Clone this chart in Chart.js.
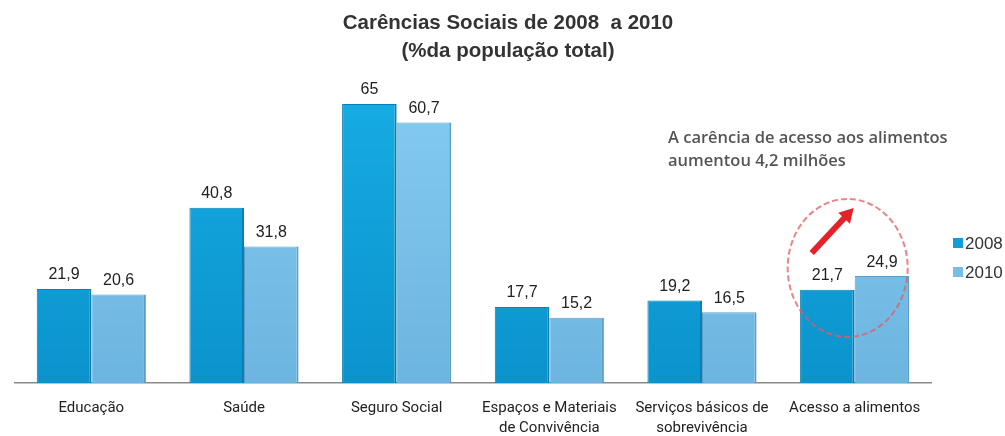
<!DOCTYPE html>
<html>
<head>
<meta charset="utf-8">
<script src="https://cdn.jsdelivr.net/npm/chart.js@4.4.0/dist/chart.umd.min.js"></script>
<style>
  html, body { margin: 0; padding: 0; background: #fff; }
  #wrap { width: 1005px; height: 436px; }
</style>
</head>
<body>
<div id="wrap"><canvas id="barChart" width="1005" height="436"></canvas></div>
<script>
const categories = [
  "Educação",
  "Saúde",
  "Seguro Social",
  ["Espaços e Materiais", "de Convivência"],
  ["Serviços básicos de", "sobrevivência"],
  "Acesso a alimentos",
];
const values2008 = [21.9, 40.8, 65, 17.7, 19.2, 21.7];
const values2010 = [20.6, 31.8, 60.7, 15.2, 16.5, 24.9];
const seriesLabels = ["2008", "2010"];
const titleLines = ["Carências Sociais de 2008  a 2010", "(%da população total)"];
const noteLines = ["A carência de acesso aos alimentos", "aumentou 4,2 milhões"];

function fmt(v) {
  return String(v).replace(".", ",");
}

// vertical gradient per bar, light at the top
function barFill(top, bottom) {
  return function (context) {
    const chart = context.chart;
    const area = chart.chartArea;
    if (!area) return top;
    const g = chart.ctx.createLinearGradient(0, area.top, 0, area.bottom);
    g.addColorStop(0, top);
    g.addColorStop(1, bottom);
    return g;
  };
}

const headTitle = {
  id: "headTitle",
  afterDraw(chart) {
    const ctx = chart.ctx;
    ctx.save();
    ctx.font = "bold 20.5px 'Liberation Sans', Arial, sans-serif";
    ctx.fillStyle = "#333";
    ctx.textAlign = "center";
    ctx.textBaseline = "middle";
    titleLines.forEach(function (t, i) {
      ctx.fillText(t, 508, 23 + i * 28);
    });
    ctx.restore();
  },
};

const valueLabels = {
  id: "valueLabels",
  afterDatasetsDraw(chart) {
    const ctx = chart.ctx;
    ctx.save();
    ctx.font = "16px 'Liberation Sans', Arial, sans-serif";
    ctx.fillStyle = "#222";
    ctx.textAlign = "center";
    ctx.textBaseline = "middle";
    chart.data.datasets.forEach(function (ds, i) {
      chart.getDatasetMeta(i).data.forEach(function (bar, j) {
        ctx.fillText(fmt(ds.data[j]), bar.x, bar.y - 14);
      });
    });
    ctx.restore();
  },
};

const sideLegend = {
  id: "sideLegend",
  afterDraw(chart) {
    const ctx = chart.ctx;
    const x0 = chart.chartArea.right + 22;
    ctx.save();
    ctx.font = "17px 'Liberation Sans', Arial, sans-serif";
    ctx.textBaseline = "middle";
    chart.data.datasets.forEach(function (ds, i) {
      const cy = 243 + i * 29;
      ctx.fillStyle = ds.swatch;
      ctx.fillRect(x0, cy - 5, 10, 10);
      ctx.fillStyle = "#333";
      ctx.fillText(ds.label, x0 + 12, cy + 1);
    });
    ctx.restore();
  },
};

const callout = {
  id: "callout",
  afterDraw(chart) {
    const ctx = chart.ctx;
    const xs = chart.scales.x;
    const ys = chart.scales.y;
    const cx = xs.getPixelForValue(5) - 7;
    const cy = ys.getPixelForValue(26.8);
    ctx.save();

    // dashed ring around the last group
    ctx.strokeStyle = "rgba(228, 90, 100, 0.75)";
    ctx.lineWidth = 2;
    ctx.setLineDash([6, 3]);
    ctx.beginPath();
    ctx.ellipse(cx, cy, 60, 69, 0, 0, Math.PI * 2);
    ctx.stroke();
    ctx.setLineDash([]);

    // red arrow pointing up-right
    const x1 = cx - 36, y1 = cy - 15, x2 = cx + 6, y2 = cy - 60;
    const ang = Math.atan2(y2 - y1, x2 - x1);
    ctx.strokeStyle = "#e3222a";
    ctx.fillStyle = "#e3222a";
    ctx.lineWidth = 6;
    ctx.beginPath();
    ctx.moveTo(x1, y1);
    ctx.lineTo(x2 - 9 * Math.cos(ang), y2 - 9 * Math.sin(ang));
    ctx.stroke();
    ctx.beginPath();
    ctx.moveTo(x2, y2);
    ctx.lineTo(x2 - 14 * Math.cos(ang) + 8 * Math.sin(ang), y2 - 14 * Math.sin(ang) - 8 * Math.cos(ang));
    ctx.lineTo(x2 - 14 * Math.cos(ang) - 8 * Math.sin(ang), y2 - 14 * Math.sin(ang) + 8 * Math.cos(ang));
    ctx.closePath();
    ctx.fill();

    ctx.font = "600 16.5px 'Open Sans', sans-serif";
    ctx.fillStyle = "#555";
    ctx.textBaseline = "middle";
    ctx.textAlign = "left";
    noteLines.forEach(function (t, i) {
      ctx.fillText(t, 668, 138 + i * 23);
    });
    ctx.restore();
  },
};

document.addEventListener("DOMContentLoaded", function () {
  const ctx = document.getElementById("barChart").getContext("2d");
  const barChart = new Chart(ctx, {
    type: "bar",
    data: {
      labels: categories,
      datasets: [
        {
          label: seriesLabels[0],
          data: values2008,
          backgroundColor: barFill("#18aee6", "#0b93cc"),
          borderColor: "#0a7fb3",
          borderWidth: { top: 1, left: 1, right: 2, bottom: 0 },
          swatch: "#0f9fd8",
        },
        {
          label: seriesLabels[1],
          data: values2010,
          backgroundColor: barFill("#86cdf1", "#6cb5e0"),
          borderColor: "#5d9ec8",
          borderWidth: { top: 1, left: 1, right: 2, bottom: 0 },
          swatch: "#77bde8",
        },
      ],
    },
    options: {
      responsive: false,
      animation: false,
      layout: { padding: { left: 15, right: 74, top: 61, bottom: 0 } },
      datasets: {
        bar: { categoryPercentage: 0.715, barPercentage: 1 },
      },
      plugins: {
        legend: { display: false },
        tooltip: { enabled: false },
        title: { display: false },
      },
      scales: {
        x: {
          grid: { display: false, drawTicks: false },
          border: { color: "#8a8a8a", width: 1.5 },
          afterFit: function (axis) {
            axis.height = 53;
          },
          ticks: {
            color: "#222",
            padding: 15,
            maxRotation: 0,
            autoSkip: false,
            font: { family: "Roboto, sans-serif", size: 15, lineHeight: 1.33 },
          },
        },
        y: {
          display: false,
          min: 0,
          max: 75,
        },
      },
    },
    plugins: [headTitle, valueLabels, sideLegend, callout],
  });
});
</script>
</body>
</html>
